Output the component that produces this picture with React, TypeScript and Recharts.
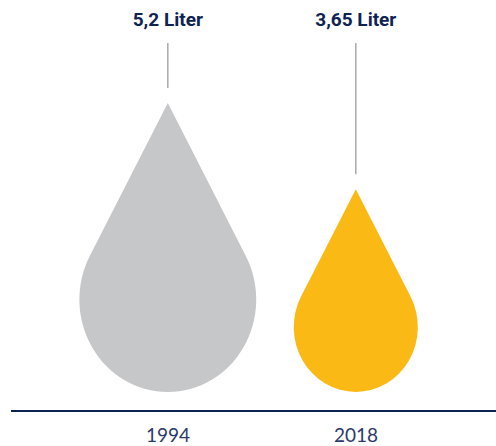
import { BarChart, Bar, XAxis, YAxis, Cell, LabelList } from "recharts";

const years = ["1994", "2018"];
const liters = [5.2, 3.65];
const colors = ["#c6c7c9", "#fbb916"];

const data = years.map((year, i) => ({ year, liters: liters[i] }));

const NAVY = "#0e2352";

// droplet: straight sides from the tip, tangent to an elliptical bottom
function Drop(props: any) {
  const { x, y, width, height, fill } = props;
  if (!height || height <= 0) return null;
  const cx = x + width / 2;
  const tipY = y;
  const bottomY = y + height;
  const rx = (height * 0.612) / 2;
  const cy = tipY + height * 0.68;
  const ry = bottomY - cy;
  const d = ((cy - tipY) * rx) / ry;
  const dx = rx * Math.sqrt(1 - (rx / d) ** 2);
  const ty = cy - ((rx * rx) / d) * (ry / rx);
  const path = `M ${cx} ${tipY} L ${cx - dx} ${ty} A ${rx} ${ry} 0 1 0 ${cx + dx} ${ty} Z`;
  return <path d={path} fill={fill} />;
}

function TopLabel(props: any) {
  const { x, y, width, value } = props;
  const cx = x + width / 2;
  return (
    <g>
      <text
        x={cx}
        y={26}
        textAnchor="middle"
        fill={NAVY}
        fontSize={19}
        fontWeight={700}
        fontFamily="Roboto, sans-serif"
      >
        {`${String(value).replace(".", ",")} Liter`}
      </text>
      <line x1={cx} x2={cx} y1={43} y2={y - 15} stroke="#aaaaaa" strokeWidth={1.5} />
    </g>
  );
}

export default function App() {
  return (
    <div style={{ position: "absolute", left: 0, top: 0, background: "#fff" }}>
      <BarChart
        width={496}
        height={446}
        data={data}
        margin={{ top: 3, right: 0, bottom: 0, left: 11 }}
        barCategoryGap="10%"
      >
        <XAxis
          dataKey="year"
          height={35}
          padding={{ left: 63, right: 46 }}
          axisLine={{ stroke: NAVY, strokeWidth: 2 }}
          tickLine={false}
          tickSize={6}
          tickMargin={12}
          tick={{ fill: "#2b3a68", fontSize: 19, fontFamily: "Lato, sans-serif" }}
        />
        <YAxis hide domain={[-0.342, 7]} />
        <Bar dataKey="liters" shape={<Drop />} isAnimationActive={false}>
          {data.map((d, i) => (
            <Cell key={d.year} fill={colors[i]} />
          ))}
          <LabelList dataKey="liters" content={<TopLabel />} />
        </Bar>
      </BarChart>
    </div>
  );
}
